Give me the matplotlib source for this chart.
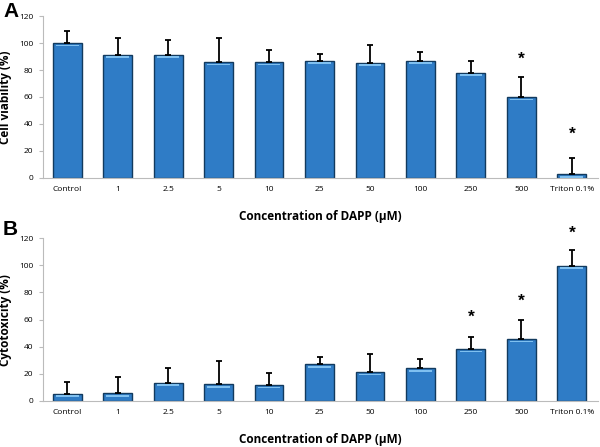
import matplotlib
matplotlib.use("Agg")
import matplotlib.pyplot as plt
import numpy as np

plt.rcParams['font.family'] = ['Open Sans', 'DejaVu Sans']

# categorias del eje x
categorias = ["Control", "1", "2.5", "5", "10", "25", "50", "100", "250", "500", "Triton 0.1%"]

# panel A: viabilidad celular (%)
viabilidad = [100, 91.5, 91.5, 86, 86, 87, 85.5, 87, 78, 60, 2.7]
viabilidad_err = [9, 12, 11, 17.5, 9, 5, 13, 6.5, 9, 14.5, 12]
estrellas_a = {9: 88, 10: 32}

# panel B: citotoxicidad (%)
citotoxicidad = [5.4, 5.6, 13.5, 12.3, 11.6, 27, 21.2, 24.1, 38.3, 45.7, 99.8]
citotoxicidad_err = [8.8, 12, 11, 17.4, 8.8, 5.2, 13.5, 7, 9, 14.3, 11.8]
estrellas_b = {8: 61.5, 9: 73.5, 10: 124}

color_barra = "#2f7cc6"
color_borde = "#123a5e"


def dibujar_panel(ax, valores, errores, estrellas, ylabel):
    x = np.arange(len(categorias))
    ax.bar(x, valores, width=0.57, color=color_barra, edgecolor=color_borde, linewidth=1.0, zorder=2)
    # franja clara cerca del borde superior
    ax.bar(x, [1.2] * len(x), bottom=np.array(valores) - 2.4, width=0.45, color="#7fc0f0",
           linewidth=0, zorder=3)
    ax.errorbar(x, valores, yerr=[[0] * len(x), errores], fmt="none", ecolor="black",
                elinewidth=1.3, capsize=2.2, capthick=1.3, zorder=4)
    for i, y in estrellas.items():
        ax.text(i, y, "*", ha="center", va="center", fontsize=12.5, fontweight="bold",
                family="Liberation Sans", clip_on=False)
    ax.set_xlim(-0.48, 10.52)
    ax.set_ylim(0, 120)
    ax.set_yticks(range(0, 121, 20))
    ax.set_xticks(x)
    ax.set_xticklabels(categorias, fontsize=6)
    ax.tick_params(axis="y", labelsize=6, length=3, color="#bbbbbb", direction="out", pad=4)
    ax.tick_params(axis="x", length=0, pad=6)
    for s in ["top", "right"]:
        ax.spines[s].set_visible(False)
    ax.spines["left"].set_color("#bbbbbb")
    ax.spines["bottom"].set_color("#bbbbbb")
    ax.set_ylabel(ylabel, fontsize=8.5, fontweight="bold", labelpad=5)
    ax.set_xlabel("Concentration of DAPP (µM)", fontsize=8.5, fontweight="bold", labelpad=12)


fig = plt.figure(figsize=(6, 4.47), dpi=100)
ax_a = fig.add_axes([0.0717, 0.602, 0.925, 0.362])
ax_b = fig.add_axes([0.0717, 0.103, 0.925, 0.364])

dibujar_panel(ax_a, viabilidad, viabilidad_err, estrellas_a, "Cell viability (%)")
dibujar_panel(ax_b, citotoxicidad, citotoxicidad_err, estrellas_b, "Cytotoxicity (%)")

fig.text(0.005, 0.975, "A", fontsize=15, fontweight="bold", va="center", family="Liberation Sans")
fig.text(0.005, 0.487, "B", fontsize=15, fontweight="bold", va="center", family="Liberation Sans")

fig.savefig("out.png", dpi=100)
